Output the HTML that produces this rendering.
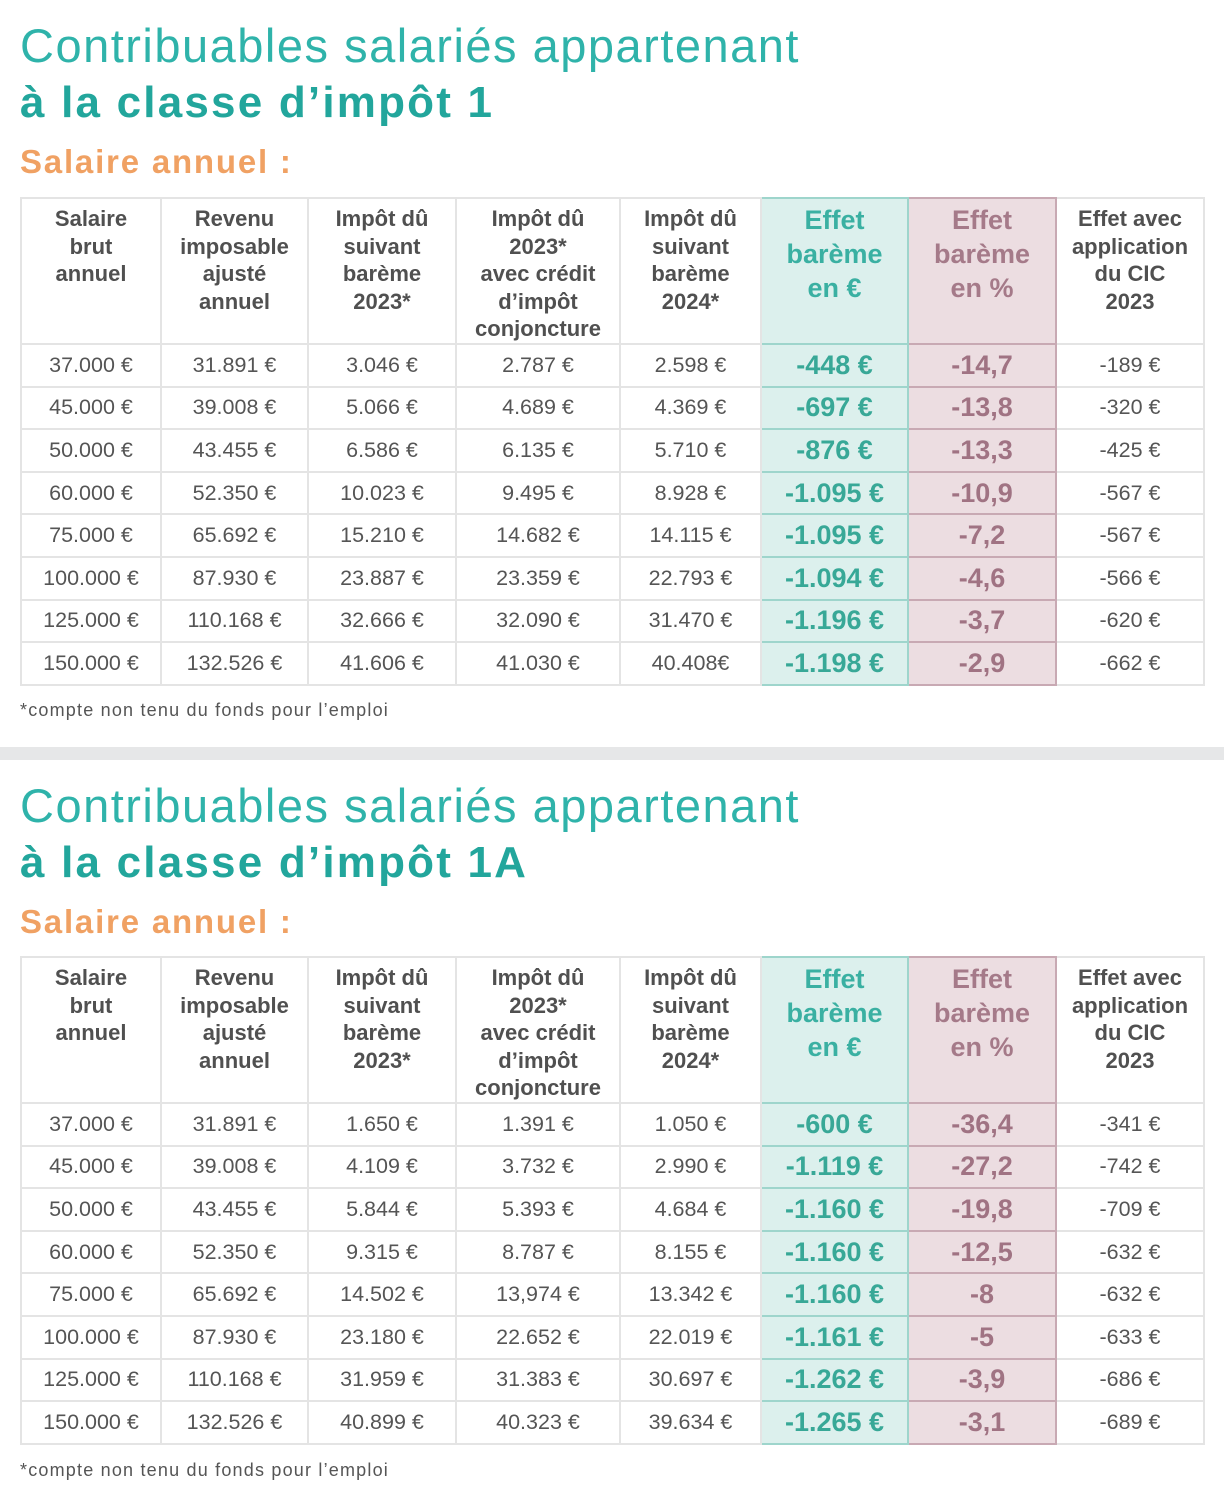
<!DOCTYPE html>
<html><head><meta charset="utf-8">
<style>
body{margin:0;width:1224px;height:1499px;background:#fff;position:relative;overflow:hidden;font-family:"Liberation Sans",sans-serif;}
.t1{position:absolute;left:20px;font-size:47px;line-height:47px;color:#2fb3aa;white-space:nowrap;letter-spacing:1.5px}
.t2{position:absolute;left:20px;font-size:44px;line-height:44px;color:#22a69c;font-weight:bold;white-space:nowrap;letter-spacing:2.2px}
.t3{position:absolute;left:20px;font-size:33px;line-height:33px;color:#f0a163;font-weight:bold;white-space:nowrap;letter-spacing:1.8px}
.fn{position:absolute;left:20px;font-size:18px;line-height:18px;color:#555;white-space:nowrap;letter-spacing:1.2px}
.bar{position:absolute;left:0;top:747px;width:1224px;height:13px;background:#e6e7e8}
table{position:absolute;left:20px;border-collapse:collapse;table-layout:fixed;width:1183px}
td{border:2px solid #e4e4e4;text-align:center;color:#555;font-size:21.5px;height:40.6px;padding:0;white-space:nowrap}
tr.h td{height:138px;vertical-align:top;font-weight:bold;font-size:22px;line-height:27.5px;padding-top:6px;color:#505050}
td.g{background:#dcf0ed;border:2.5px solid #9ed5cc;color:#38a897;font-weight:bold;font-size:27px}
td.p{background:#ecdde1;border:2.5px solid #c8a9b3;color:#a07383;font-weight:bold;font-size:27px}
tr.h td.g,tr.h td.p{font-size:27px;line-height:34px;padding-top:4px}
tr.h td.g{color:#3ab0a2}
tr.h td.p{color:#a57a89}
</style></head><body>

<div class="t1" style="top:22px">Contribuables salariés appartenant</div>
<div class="t2" style="top:81px">à la classe d’impôt 1</div>
<div class="t3" style="top:145px">Salaire annuel :</div>

<table style="top:197px">
<colgroup><col style="width:140px"><col style="width:147px"><col style="width:148px"><col style="width:164px"><col style="width:141px"><col style="width:147px"><col style="width:148px"><col style="width:148px"></colgroup>
<tr class="h"><td>Salaire<br>brut<br>annuel</td><td>Revenu<br>imposable<br>ajusté<br>annuel</td><td>Impôt dû<br>suivant<br>barème<br>2023*</td><td>Impôt dû<br>2023*<br>avec crédit<br>d’impôt<br>conjoncture</td><td>Impôt dû<br>suivant<br>barème<br>2024*</td><td class="g">Effet<br>barème<br>en €</td><td class="p">Effet<br>barème<br>en %</td><td>Effet avec<br>application<br>du CIC<br>2023</td></tr>
<tr><td>37.000 €</td><td>31.891 €</td><td>3.046 €</td><td>2.787 €</td><td>2.598 €</td><td class="g">-448 €</td><td class="p">-14,7</td><td>-189 €</td></tr>
<tr><td>45.000 €</td><td>39.008 €</td><td>5.066 €</td><td>4.689 €</td><td>4.369 €</td><td class="g">-697 €</td><td class="p">-13,8</td><td>-320 €</td></tr>
<tr><td>50.000 €</td><td>43.455 €</td><td>6.586 €</td><td>6.135 €</td><td>5.710 €</td><td class="g">-876 €</td><td class="p">-13,3</td><td>-425 €</td></tr>
<tr><td>60.000 €</td><td>52.350 €</td><td>10.023 €</td><td>9.495 €</td><td>8.928 €</td><td class="g">-1.095 €</td><td class="p">-10,9</td><td>-567 €</td></tr>
<tr><td>75.000 €</td><td>65.692 €</td><td>15.210 €</td><td>14.682 €</td><td>14.115 €</td><td class="g">-1.095 €</td><td class="p">-7,2</td><td>-567 €</td></tr>
<tr><td>100.000 €</td><td>87.930 €</td><td>23.887 €</td><td>23.359 €</td><td>22.793 €</td><td class="g">-1.094 €</td><td class="p">-4,6</td><td>-566 €</td></tr>
<tr><td>125.000 €</td><td>110.168 €</td><td>32.666 €</td><td>32.090 €</td><td>31.470 €</td><td class="g">-1.196 €</td><td class="p">-3,7</td><td>-620 €</td></tr>
<tr><td>150.000 €</td><td>132.526 €</td><td>41.606 €</td><td>41.030 €</td><td>40.408€</td><td class="g">-1.198 €</td><td class="p">-2,9</td><td>-662 €</td></tr>
</table>
<div class="fn" style="top:701px">*compte non tenu du fonds pour l’emploi</div>

<div class="bar"></div>

<div class="t1" style="top:782px">Contribuables salariés appartenant</div>
<div class="t2" style="top:841px">à la classe d’impôt 1A</div>
<div class="t3" style="top:905px">Salaire annuel :</div>

<table style="top:956px">
<colgroup><col style="width:140px"><col style="width:147px"><col style="width:148px"><col style="width:164px"><col style="width:141px"><col style="width:147px"><col style="width:148px"><col style="width:148px"></colgroup>
<tr class="h"><td>Salaire<br>brut<br>annuel</td><td>Revenu<br>imposable<br>ajusté<br>annuel</td><td>Impôt dû<br>suivant<br>barème<br>2023*</td><td>Impôt dû<br>2023*<br>avec crédit<br>d’impôt<br>conjoncture</td><td>Impôt dû<br>suivant<br>barème<br>2024*</td><td class="g">Effet<br>barème<br>en €</td><td class="p">Effet<br>barème<br>en %</td><td>Effet avec<br>application<br>du CIC<br>2023</td></tr>
<tr><td>37.000 €</td><td>31.891 €</td><td>1.650 €</td><td>1.391 €</td><td>1.050 €</td><td class="g">-600 €</td><td class="p">-36,4</td><td>-341 €</td></tr>
<tr><td>45.000 €</td><td>39.008 €</td><td>4.109 €</td><td>3.732 €</td><td>2.990 €</td><td class="g">-1.119 €</td><td class="p">-27,2</td><td>-742 €</td></tr>
<tr><td>50.000 €</td><td>43.455 €</td><td>5.844 €</td><td>5.393 €</td><td>4.684 €</td><td class="g">-1.160 €</td><td class="p">-19,8</td><td>-709 €</td></tr>
<tr><td>60.000 €</td><td>52.350 €</td><td>9.315 €</td><td>8.787 €</td><td>8.155 €</td><td class="g">-1.160 €</td><td class="p">-12,5</td><td>-632 €</td></tr>
<tr><td>75.000 €</td><td>65.692 €</td><td>14.502 €</td><td>13,974 €</td><td>13.342 €</td><td class="g">-1.160 €</td><td class="p">-8</td><td>-632 €</td></tr>
<tr><td>100.000 €</td><td>87.930 €</td><td>23.180 €</td><td>22.652 €</td><td>22.019 €</td><td class="g">-1.161 €</td><td class="p">-5</td><td>-633 €</td></tr>
<tr><td>125.000 €</td><td>110.168 €</td><td>31.959 €</td><td>31.383 €</td><td>30.697 €</td><td class="g">-1.262 €</td><td class="p">-3,9</td><td>-686 €</td></tr>
<tr><td>150.000 €</td><td>132.526 €</td><td>40.899 €</td><td>40.323 €</td><td>39.634 €</td><td class="g">-1.265 €</td><td class="p">-3,1</td><td>-689 €</td></tr>
</table>
<div class="fn" style="top:1461px">*compte non tenu du fonds pour l’emploi</div>

</body></html>
